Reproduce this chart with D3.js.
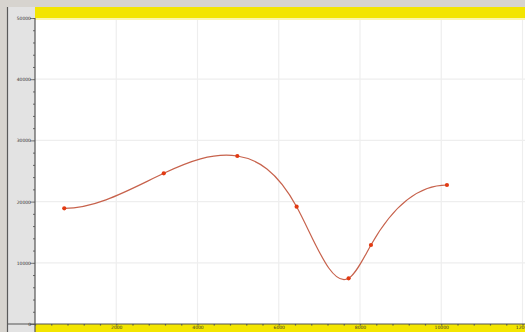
<!DOCTYPE html>
<html><head><meta charset="utf-8">
<script src="https://cdn.jsdelivr.net/npm/d3@7"></script>
<style>html,body{margin:0;padding:0;background:#d7d4cf;}svg{display:block;}</style>
</head><body>
<svg id="c" width="525" height="332"></svg>
<script>
const xValues = [720, 3170, 4980, 6440, 7720, 8270, 10140];
const yValues = [18900, 24620, 27450, 19170, 7470, 12910, 22710];
const xTicks = [0, 2000, 4000, 6000, 8000, 10000, 12000];
const xTickLabels = ["", "2000", "4000", "6000", "8000", "10000", "12000"];
const yTicks = [0, 10000, 20000, 30000, 40000, 50000];
const yTickLabels = ["0", "10000", "20000", "30000", "40000", "50000"];

// custom d3 curve: cubic spline in x with flat (clamped) ends
function ClampedSpline(context) { this._context = context; }
ClampedSpline.prototype = {
  areaStart() { this._line = 0; }, areaEnd() { this._line = NaN; },
  lineStart() { this._x = []; this._y = []; },
  point(x, y) { this._x.push(+x); this._y.push(+y); },
  lineEnd() {
    const X = this._x, Y = this._y, n = X.length, c = this._context;
    if (!n) return;
    c.moveTo(X[0], Y[0]);
    if (n < 3) { if (n === 2) c.lineTo(X[1], Y[1]); return; }
    const h = [], d = [];
    for (let i = 0; i < n - 1; i++) { h[i] = X[i + 1] - X[i]; d[i] = (Y[i + 1] - Y[i]) / h[i]; }
    // tridiagonal system for slopes m, m0 = m_{n-1} = 0
    const a = [], b = [], cc = [], r = [];
    for (let i = 0; i < n; i++) {
      if (i === 0 || i === n - 1) { a[i] = 0; b[i] = 1; cc[i] = 0; r[i] = 0; }
      else {
        a[i] = h[i]; b[i] = 2 * (h[i - 1] + h[i]); cc[i] = h[i - 1];
        r[i] = 3 * (h[i] * d[i - 1] + h[i - 1] * d[i]);
      }
    }
    for (let i = 1; i < n; i++) {
      const w = a[i] / b[i - 1];
      b[i] -= w * cc[i - 1]; r[i] -= w * r[i - 1];
    }
    const m = new Array(n);
    m[n - 1] = r[n - 1] / b[n - 1];
    for (let i = n - 2; i >= 0; i--) m[i] = (r[i] - cc[i] * m[i + 1]) / b[i];
    for (let i = 0; i < n - 1; i++) {
      const t = h[i] / 3;
      c.bezierCurveTo(X[i] + t, Y[i] + m[i] * t, X[i + 1] - t, Y[i + 1] - m[i + 1] * t, X[i + 1], Y[i + 1]);
    }
  }
};
const curveClamped = ctx => new ClampedSpline(ctx);

const svg = d3.select("#c");
const W = 525, H = 332;
const x = d3.scaleLinear().domain([0, 12000]).range([35, 522.5]);
const y = d3.scaleLinear().domain([0, 50000]).range([324, 18]);

svg.append("rect").attr("width", W).attr("height", H).attr("fill", "#d7d4cf");
svg.append("rect").attr("x", 7.5).attr("y", 7).attr("width", 28).attr("height", H - 7).attr("fill", "#e3e3e3");
svg.append("line").attr("x1", 7.5).attr("x2", 7.5).attr("y1", 7).attr("y2", H).attr("stroke", "#5a5a5a").attr("stroke-width", 1.2);
svg.append("rect").attr("x", 35).attr("y", 7).attr("width", W - 35).attr("height", 317).attr("fill", "#ffffff");
svg.append("rect").attr("x", 35).attr("y", 7).attr("width", W - 35).attr("height", 11).attr("fill", "#f3e500");
svg.append("rect").attr("x", 35).attr("y", 18).attr("width", W - 35).attr("height", 2).attr("fill", "#fbf6b0");
svg.append("rect").attr("x", 35).attr("y", 324).attr("width", W - 35).attr("height", 8).attr("fill", "#f3e500");

const grid = svg.append("g");
grid.selectAll("line.v").data(xTicks.slice(1)).join("line")
  .attr("x1", d => x(d)).attr("x2", d => x(d)).attr("y1", 20).attr("y2", 324)
  .attr("stroke", "#eeeeee").attr("stroke-width", 1.2);
grid.selectAll("line.h").data(yTicks.slice(1, -1)).join("line")
  .attr("x1", 35).attr("x2", W).attr("y1", d => y(d)).attr("y2", d => y(d))
  .attr("stroke", "#eeeeee").attr("stroke-width", 1.2);

const yAxis = d3.axisLeft(y).tickValues(d3.range(0, 50001, 2000)).tickSize(2).tickFormat("");
const gy = svg.append("g").attr("transform", "translate(35,0)").call(yAxis);
gy.select(".domain").remove();
gy.selectAll(".tick line").attr("stroke", "#666");
svg.append("line").attr("x1", 35).attr("x2", 35).attr("y1", 18).attr("y2", H).attr("stroke", "#555").attr("stroke-width", 1.2);
const yLab = d3.axisLeft(y).tickValues(yTicks).tickSize(3).tickFormat((d, i) => yTickLabels[i]);
const gyl = svg.append("g").attr("transform", "translate(33,0)").call(yLab);
gyl.select(".domain").remove();
gyl.selectAll(".tick line").attr("stroke", "#777");
gyl.selectAll("text").attr("font-family", "DejaVu Sans, sans-serif").attr("font-size", 4.5).attr("fill", "#333").attr("x", -2);

svg.append("line").attr("x1", 8).attr("x2", W).attr("y1", 324).attr("y2", 324).attr("stroke", "#555").attr("stroke-width", 1.2);
const xAxis = d3.axisBottom(x).tickValues(d3.range(0, 12001, 400)).tickSize(1.5).tickFormat("");
const gx = svg.append("g").attr("transform", "translate(0,324)").call(xAxis);
gx.select(".domain").remove();
gx.selectAll(".tick line").attr("stroke", "#555").attr("stroke-width", 1.2);
const xLab = d3.axisBottom(x).tickValues(xTicks).tickSize(0).tickFormat((d, i) => xTickLabels[i]);
const gxl = svg.append("g").attr("transform", "translate(0,325)").call(xLab);
gxl.select(".domain").remove();
gxl.selectAll("text").attr("font-family", "DejaVu Sans, sans-serif").attr("font-size", 4.5).attr("fill", "#333").attr("dy", "0.6em").attr("y", 1);

const pts = xValues.map((v, i) => [v, yValues[i]]);
const line = d3.line().x(d => x(d[0])).y(d => y(d[1])).curve(curveClamped);
svg.append("path").attr("d", line(pts)).attr("fill", "none").attr("stroke", "#c7624c").attr("stroke-width", 1.2);
svg.selectAll("circle.p").data(pts).join("circle")
  .attr("cx", d => x(d[0])).attr("cy", d => y(d[1])).attr("r", 2.1).attr("fill", "#e23a12");
</script>
</body></html>
